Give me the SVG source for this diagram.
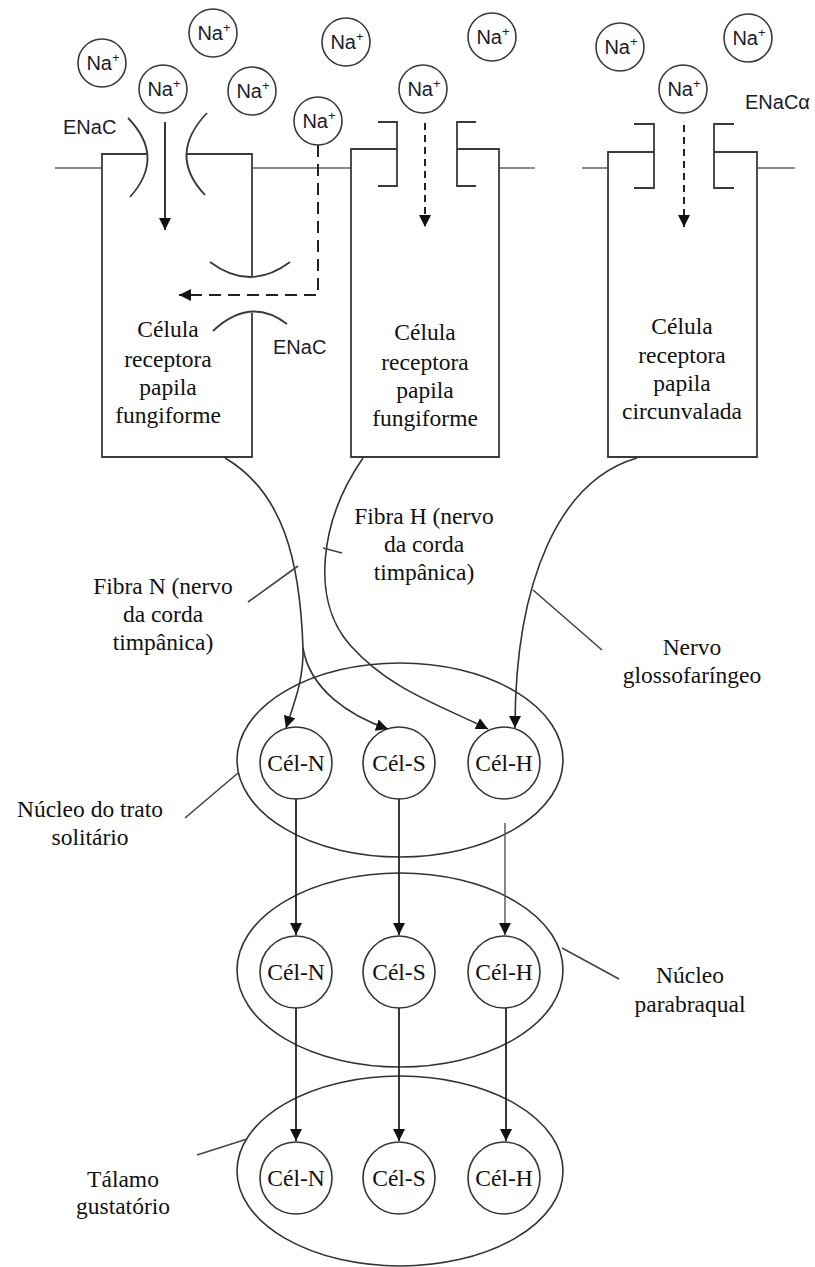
<svg xmlns="http://www.w3.org/2000/svg" width="815" height="1267" viewBox="0 0 815 1267">
<defs>
<style>
.bg{fill:#fff}
.wall{fill:none;stroke:#3a3a3a;stroke-width:1.8}
.mem{fill:none;stroke:#8a8a8a;stroke-width:2}
.arc{fill:none;stroke:#3a3a3a;stroke-width:1.8}
.ion circle{fill:#fff;stroke:#3a3a3a;stroke-width:1.6}
.ion text{font-family:"Liberation Sans",Arial,sans-serif;font-size:20px;fill:#1b1b2a;text-anchor:middle}
.sup{font-size:13px}
.sans{font-family:"Liberation Sans",Arial,sans-serif;font-size:20px;fill:#1b1b2a}
.serif{font-family:"Liberation Serif","Times New Roman",serif;font-size:23.5px;fill:#111}
.mid{text-anchor:middle}
.arrow{fill:none;stroke:#222;stroke-width:1.8}
.dash1{fill:none;stroke:#222;stroke-width:2;stroke-dasharray:12 7}
.dash2{fill:none;stroke:#222;stroke-width:2;stroke-dasharray:7 5}
.fiber{fill:none;stroke:#333;stroke-width:1.6}
.lead{fill:none;stroke:#444;stroke-width:1.6}
.nuc{fill:none;stroke:#333;stroke-width:1.6}
.cel circle{fill:#fff;stroke:#333;stroke-width:1.6}
</style>
<marker id="ah" viewBox="0 0 10 10" refX="10" refY="5" markerWidth="12" markerHeight="12" markerUnits="userSpaceOnUse" orient="auto">
<path d="M0,0 L10,5 L0,10 z" fill="#111"/>
</marker>
</defs>
<rect class="bg" x="0" y="0" width="815" height="1267"/>

<!-- membrane -->
<g id="membrane">
<path class="mem" d="M55 168 H102 M252 168 H351 M499 168 H535 M582 168 H608 M757 168 H795"/>
</g>

<!-- nuclei ellipses -->
<g id="nucleo-trato-solitario"><ellipse class="nuc" cx="400" cy="760" rx="163" ry="97"/></g>
<g id="nucleo-parabraquial"><ellipse class="nuc" cx="400" cy="970" rx="163" ry="97"/></g>
<g id="talamo-gustatorio"><ellipse class="nuc" cx="400" cy="1171" rx="163" ry="95"/></g>

<!-- cell 1 -->
<g id="cell1">
<path class="wall" d="M147 154 H102 V457 H252 V313"/>
<path class="wall" d="M187 154 H252 V277"/>
<path class="arc" d="M128 118 Q166 157 130 197"/>
<path class="arc" d="M207 113 Q167 155 205 195"/>
<path class="arc" d="M210 262 Q250 292 290 262"/>
<path class="arc" d="M213 331 Q250 296 287 324"/>
<text class="serif mid" x="168" y="337">Célula</text>
<text class="serif mid" x="168" y="367">receptora</text>
<text class="serif mid" x="168" y="395">papila</text>
<text class="serif mid" x="168" y="423">fungiforme</text>
</g>

<!-- cell 2 -->
<g id="cell2">
<path class="wall" d="M397 149 H351 V457 H499 V149 H457"/>
<path class="wall" d="M378 122 H397 V186 H378"/>
<path class="wall" d="M476 122 H457 V186 H476"/>
<text class="serif mid" x="425" y="340">Célula</text>
<text class="serif mid" x="425" y="370">receptora</text>
<text class="serif mid" x="425" y="398">papila</text>
<text class="serif mid" x="425" y="426">fungiforme</text>
</g>

<!-- cell 3 -->
<g id="cell3">
<path class="wall" d="M654 152 H608 V457 H757 V152 H714"/>
<path class="wall" d="M634 124 H654 V188 H634"/>
<path class="wall" d="M734 124 H714 V188 H734"/>
<text class="serif mid" x="682" y="334">Célula</text>
<text class="serif mid" x="682" y="363">receptora</text>
<text class="serif mid" x="682" y="391">papila</text>
<text class="serif mid" x="682" y="419">circunvalada</text>
</g>

<!-- sodium ions -->
<g id="ions" class="ion">
<g id="na1"><circle cx="102" cy="63" r="24"/><text x="103" y="70">Na<tspan class="sup" dy="-8">+</tspan></text></g>
<g id="na2"><circle cx="213" cy="33" r="24"/><text x="214" y="40">Na<tspan class="sup" dy="-8">+</tspan></text></g>
<g id="na3"><circle cx="163" cy="89" r="24"/><text x="164" y="96">Na<tspan class="sup" dy="-8">+</tspan></text></g>
<g id="na4"><circle cx="252" cy="91" r="24"/><text x="253" y="98">Na<tspan class="sup" dy="-8">+</tspan></text></g>
<g id="na5"><circle cx="318" cy="121" r="24"/><text x="319" y="128">Na<tspan class="sup" dy="-8">+</tspan></text></g>
<g id="na6"><circle cx="346" cy="42" r="24"/><text x="347" y="49">Na<tspan class="sup" dy="-8">+</tspan></text></g>
<g id="na7"><circle cx="423" cy="89" r="24"/><text x="424" y="96">Na<tspan class="sup" dy="-8">+</tspan></text></g>
<g id="na8"><circle cx="492" cy="37" r="24"/><text x="493" y="44">Na<tspan class="sup" dy="-8">+</tspan></text></g>
<g id="na9"><circle cx="620" cy="47" r="24"/><text x="621" y="54">Na<tspan class="sup" dy="-8">+</tspan></text></g>
<g id="na10"><circle cx="683" cy="89" r="24"/><text x="684" y="96">Na<tspan class="sup" dy="-8">+</tspan></text></g>
<g id="na11"><circle cx="748" cy="38" r="24"/><text x="749" y="45">Na<tspan class="sup" dy="-8">+</tspan></text></g>
</g>

<!-- channel labels -->
<g id="labels-enac">
<text class="sans" x="63" y="134">ENaC</text>
<text class="sans" x="273" y="354">ENaC</text>
<text class="sans" x="745" y="109">ENaCα</text>
</g>

<!-- NTS cells -->
<g id="nts-cel-n" class="cel"><circle cx="296" cy="763" r="36"/><text class="serif mid" x="296" y="771">Cél-N</text></g>
<g id="nts-cel-s" class="cel"><circle cx="399" cy="763" r="36"/><text class="serif mid" x="399" y="771">Cél-S</text></g>
<g id="nts-cel-h" class="cel"><circle cx="504" cy="763" r="36"/><text class="serif mid" x="504" y="771">Cél-H</text></g>
<!-- PB cells -->
<g id="pb-cel-n" class="cel"><circle cx="296" cy="972" r="36"/><text class="serif mid" x="296" y="980">Cél-N</text></g>
<g id="pb-cel-s" class="cel"><circle cx="399" cy="972" r="36"/><text class="serif mid" x="399" y="980">Cél-S</text></g>
<g id="pb-cel-h" class="cel"><circle cx="504" cy="972" r="36"/><text class="serif mid" x="504" y="980">Cél-H</text></g>
<!-- Thalamus cells -->
<g id="th-cel-n" class="cel"><circle cx="296" cy="1178" r="36"/><text class="serif mid" x="296" y="1186">Cél-N</text></g>
<g id="th-cel-s" class="cel"><circle cx="399" cy="1178" r="36"/><text class="serif mid" x="399" y="1186">Cél-S</text></g>
<g id="th-cel-h" class="cel"><circle cx="504" cy="1178" r="36"/><text class="serif mid" x="504" y="1186">Cél-H</text></g>

<!-- connectors -->
<g id="connectors">
<path class="arrow" d="M165 122 V230" marker-end="url(#ah)"/>
<path class="dash1" d="M318 145 V295 H179" marker-end="url(#ah)"/>
<path class="dash2" d="M425 123 V227" marker-end="url(#ah)"/>
<path class="dash2" d="M684 125 V227" marker-end="url(#ah)"/>

<path class="fiber" d="M225 458 C283 492 300 560 303 648"/>
<path class="fiber" d="M303 648 C304 680 293 706 286 728" marker-end="url(#ah)"/>
<path class="fiber" d="M303 648 C310 690 350 716 388 729" marker-end="url(#ah)"/>
<path class="fiber" d="M363 458 C320 520 310 600 350 645 S440 705 488 729" marker-end="url(#ah)"/>
<path class="fiber" d="M637 458 C560 480 515 580 515 728" marker-end="url(#ah)"/>

<path class="arrow" d="M296 799 V935" marker-end="url(#ah)"/>
<path class="arrow" d="M399 799 V935" marker-end="url(#ah)"/>
<path class="arrow" style="stroke:#555;stroke-width:1.4" d="M505 823 V935" marker-end="url(#ah)"/>
<path class="arrow" d="M296 1008 V1141" marker-end="url(#ah)"/>
<path class="arrow" d="M399 1008 V1141" marker-end="url(#ah)"/>
<path class="arrow" d="M506 1008 V1141" marker-end="url(#ah)"/>

<path class="lead" d="M323 548 L342 553"/>
<path class="lead" d="M298 566 L248 602"/>
<path class="lead" d="M533 590 L602 650"/>
<path class="lead" d="M238 773 L185 818"/>
<path class="lead" d="M562 948 L619 979"/>
<path class="lead" d="M247 1139 L197 1155"/>
</g>

<!-- labels -->
<g id="label-fibra-h">
<text class="serif mid" x="424" y="524">Fibra H (nervo</text>
<text class="serif mid" x="424" y="552">da corda</text>
<text class="serif mid" x="424" y="580">timpânica)</text>
</g>
<g id="label-fibra-n">
<text class="serif mid" x="163" y="594">Fibra N (nervo</text>
<text class="serif mid" x="163" y="622">da corda</text>
<text class="serif mid" x="163" y="650">timpânica)</text>
</g>
<g id="label-glosso">
<text class="serif mid" x="692" y="655">Nervo</text>
<text class="serif mid" x="692" y="683">glossofaríngeo</text>
</g>
<g id="label-nts">
<text class="serif mid" x="90" y="817">Núcleo do trato</text>
<text class="serif mid" x="90" y="845">solitário</text>
</g>
<g id="label-pb">
<text class="serif mid" x="690" y="983">Núcleo</text>
<text class="serif mid" x="690" y="1012">parabraqual</text>
</g>
<g id="label-talamo">
<text class="serif mid" x="123" y="1187">Tálamo</text>
<text class="serif mid" x="123" y="1214">gustatório</text>
</g>
</svg>
